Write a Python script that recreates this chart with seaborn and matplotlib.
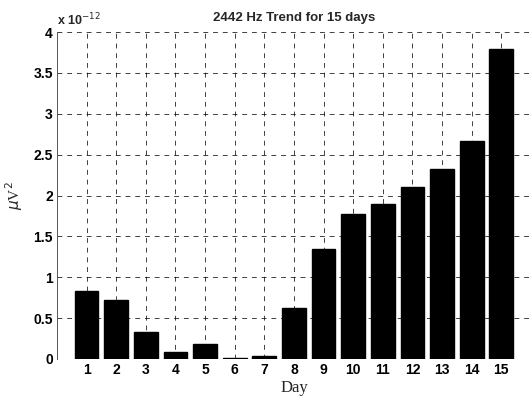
import matplotlib
matplotlib.use('Agg')
import matplotlib.pyplot as plt
import seaborn as sns
import pandas as pd

# power at 2442 Hz per day, in units of 1e-12 uV^2
days = list(range(1, 16))
power = [0.83, 0.72, 0.33, 0.085, 0.18, 0.01, 0.04, 0.62,
         1.35, 1.77, 1.89, 2.10, 2.33, 2.67, 3.79]
y_ticks = [0, 0.5, 1, 1.5, 2, 2.5, 3, 3.5, 4]
y_tick_labels = ['0', '0.5', '1', '1.5', '2', '2.5', '3', '3.5', '4']

df = pd.DataFrame({'day': days, 'power': power})

sns.set_theme(style='white')
plt.rcParams['font.family'] = ['Liberation Sans', 'DejaVu Sans']

fig = plt.figure(figsize=(5.32, 4.0), dpi=100)
ax = fig.add_axes([0.107, 0.1025, 0.891, 0.8175])

sns.barplot(data=df, x='day', y='power', color='black', width=0.8,
            saturation=1, edgecolor='black', ax=ax)

ax.set_xlim(-1, 15)
ax.set_ylim(0, 4)
ax.set_yticks(y_ticks)
ax.set_yticklabels(y_tick_labels)
ax.set_xticks(range(len(days)))
ax.set_xticklabels([str(d) for d in days])

ax.set_axisbelow(True)
ax.grid(True, color='black', linestyle=(0, (5, 5)), linewidth=0.7, alpha=0.75)
for s in ['top', 'right', 'bottom']:
    ax.spines[s].set_visible(False)
ax.spines['left'].set_color('#555555')
ax.spines['left'].set_linewidth(0.7)

ax.tick_params(axis='both', labelsize=10, length=2, direction='in', pad=3,
               colors='black')
for lbl in ax.get_xticklabels() + ax.get_yticklabels():
    lbl.set_fontweight('bold')

ax.set_title('2442 Hz Trend for 15 days', fontsize=9.5, fontweight='bold', pad=8)
ax.set_xlabel('Day', family='Liberation Serif', fontsize=12, labelpad=2)
ax.set_ylabel(r'$\mu$V$^2$', family='Liberation Serif', fontsize=11)
ax.yaxis.set_label_coords(-0.068, 0.5)
ax.text(0.0, 1.01, r'x 10$^{-12}$', transform=ax.transAxes, fontsize=9,
        fontweight='bold', ha='left', va='bottom')

fig.savefig('out.png', dpi=100)
